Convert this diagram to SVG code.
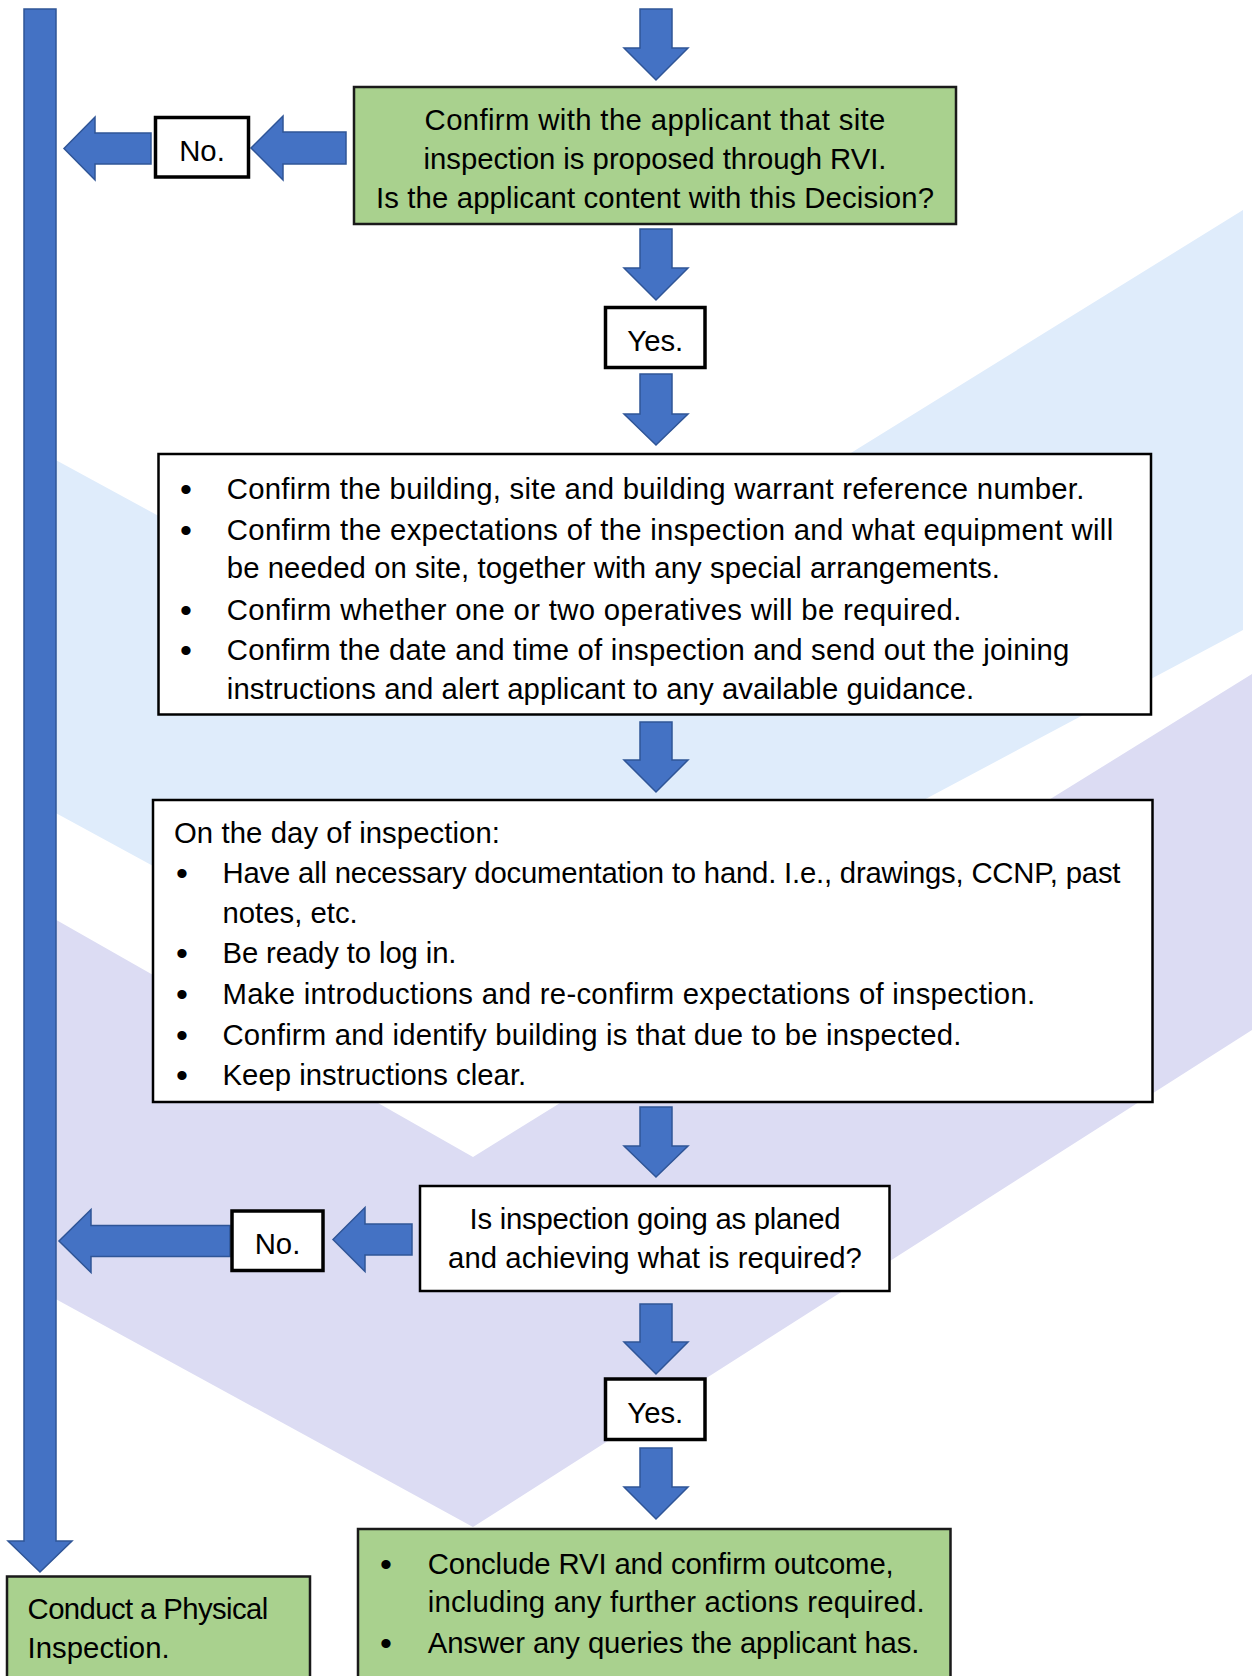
<svg xmlns="http://www.w3.org/2000/svg" width="1252" height="1676" viewBox="0 0 1252 1676">
<style>
text{font-family:"Liberation Sans",Arial,sans-serif;font-size:29.3px;fill:#000}
.c{text-anchor:middle}
.b{text-anchor:middle;font-size:34px}
.arr{fill:#4472C4;stroke:#2F5597;stroke-width:1.5;stroke-linejoin:miter}
.box{fill:#fff;stroke:#000;stroke-width:2.5}
.lbl{fill:#fff;stroke:#000;stroke-width:3.5}
.grn{fill:#A9D18E;stroke:#1a1a1a;stroke-width:2.5}
</style>
<rect x="0" y="0" width="1252" height="1676" fill="#fff"/>
<g id="watermark">
<polygon points="30,446 473,687 1243,210 1243,630 473,1040 30,799" fill="#DFECFB"/>
<polygon points="30,905 473,1157 1252,674 1252,1030 473,1527 30,1285" fill="#DCDCF3"/>
</g>
<g id="connectors">
<polygon class="arr" points="24,9 56,9 56,1541 72,1541 40,1572 8,1541 24,1541"/>
<polygon class="arr" points="640,9 672,9 672,48 688,48 656,80 624,48 640,48"/>
<polygon class="arr" points="640,229 672,229 672,268 688,268 656,300 624,268 640,268"/>
<polygon class="arr" points="640,374 672,374 672,414 688,414 656,445 624,414 640,414"/>
<polygon class="arr" points="640,722 672,722 672,760 688,760 656,792 624,760 640,760"/>
<polygon class="arr" points="640,1107 672,1107 672,1146 688,1146 656,1177 624,1146 640,1146"/>
<polygon class="arr" points="640,1304 672,1304 672,1342 688,1342 656,1374 624,1342 640,1342"/>
<polygon class="arr" points="640,1448 672,1448 672,1487 688,1487 656,1519 624,1487 640,1487"/>
<polygon class="arr" points="346,132 283,132 283,116 251,148 283,180 283,164 346,164"/>
<polygon class="arr" points="151,133 95,133 95,117 64,148.5 95,180 95,164 151,164"/>
<polygon class="arr" points="412,1224 365,1224 365,1207.5 333,1239.5 365,1271.5 365,1255 412,1255"/>
<polygon class="arr" points="230,1225.5 91,1225.5 91,1209.5 59,1241 91,1272.5 91,1256.5 230,1256.5"/>
</g>
<g id="node-confirm-rvi">
<rect class="grn" x="354" y="87" width="602" height="137"/>
<text class="c" x="655" y="130" textLength="460.8">Confirm with the applicant that site</text>
<text class="c" x="655" y="168.5" textLength="463">inspection is proposed through RVI.</text>
<text class="c" x="655" y="207.5" textLength="558">Is the applicant content with this Decision?</text>
</g>
<g id="node-no-1">
<rect class="lbl" x="155.5" y="117.5" width="93" height="59.5"/>
<text class="c" x="202" y="161">No.</text>
</g>
<g id="node-yes-1">
<rect class="lbl" x="605.5" y="307.5" width="99.5" height="60"/>
<text class="c" x="655.3" y="350.5">Yes.</text>
</g>
<g id="node-confirm-details">
<rect class="box" x="158.5" y="454" width="992.5" height="260.5"/>
<text class="b" x="186" y="501">•</text>
<text x="226.8" y="499" textLength="857.5">Confirm the building, site and building warrant reference number.</text>
<text class="b" x="186" y="541.5">•</text>
<text x="226.8" y="539.5" textLength="886.4">Confirm the expectations of the inspection and what equipment will</text>
<text x="226.8" y="578" textLength="773">be needed on site, together with any special arrangements.</text>
<text class="b" x="186" y="621.5">•</text>
<text x="226.8" y="619.5" textLength="734.5">Confirm whether one or two operatives will be required.</text>
<text class="b" x="186" y="662">•</text>
<text x="226.8" y="660" textLength="842.5">Confirm the date and time of inspection and send out the joining</text>
<text x="226.8" y="699" textLength="747.4">instructions and alert applicant to any available guidance.</text>
</g>
<g id="node-day-of-inspection">
<rect class="box" x="153" y="800" width="999.5" height="302"/>
<text x="174" y="842.5" textLength="326">On the day of inspection:</text>
<text class="b" x="182" y="885">•</text>
<text x="222.5" y="883" textLength="898">Have all necessary documentation to hand. I.e., drawings, CCNP, past</text>
<text x="222.5" y="922.5">notes, etc.</text>
<text class="b" x="182" y="964.5">•</text>
<text x="222.5" y="962.5" textLength="234">Be ready to log in.</text>
<text class="b" x="182" y="1005.5">•</text>
<text x="222.5" y="1003.5" textLength="812.6">Make introductions and re-confirm expectations of inspection.</text>
<text class="b" x="182" y="1046.5">•</text>
<text x="222.5" y="1044.5" textLength="738.8">Confirm and identify building is that due to be inspected.</text>
<text class="b" x="182" y="1086.5">•</text>
<text x="222.5" y="1084.5" textLength="303.7">Keep instructions clear.</text>
</g>
<g id="node-going-as-planned">
<rect class="box" x="420" y="1186" width="469.5" height="105"/>
<text class="c" x="655" y="1229" textLength="371">Is inspection going as planed</text>
<text class="c" x="655" y="1267.5" textLength="413.8">and achieving what is required?</text>
</g>
<g id="node-no-2">
<rect class="lbl" x="232" y="1211" width="91" height="59.5"/>
<text class="c" x="277.5" y="1253.5">No.</text>
</g>
<g id="node-yes-2">
<rect class="lbl" x="605.5" y="1379" width="99.5" height="60.5"/>
<text class="c" x="655.3" y="1422.5">Yes.</text>
</g>
<g id="node-conclude">
<rect class="grn" x="358" y="1529" width="592.5" height="170"/>
<text class="b" x="386" y="1575.5">•</text>
<text x="427.7" y="1573.5" textLength="466">Conclude RVI and confirm outcome,</text>
<text x="427.7" y="1612" textLength="497">including any further actions required.</text>
<text class="b" x="386" y="1654.5">•</text>
<text x="427.7" y="1652.5" textLength="491.8">Answer any queries the applicant has.</text>
</g>
<g id="node-physical">
<rect class="grn" x="7" y="1576.5" width="303" height="130"/>
<text x="27.6" y="1619" textLength="240.6">Conduct a Physical</text>
<text x="27.6" y="1658" textLength="142">Inspection.</text>
</g>
</svg>
